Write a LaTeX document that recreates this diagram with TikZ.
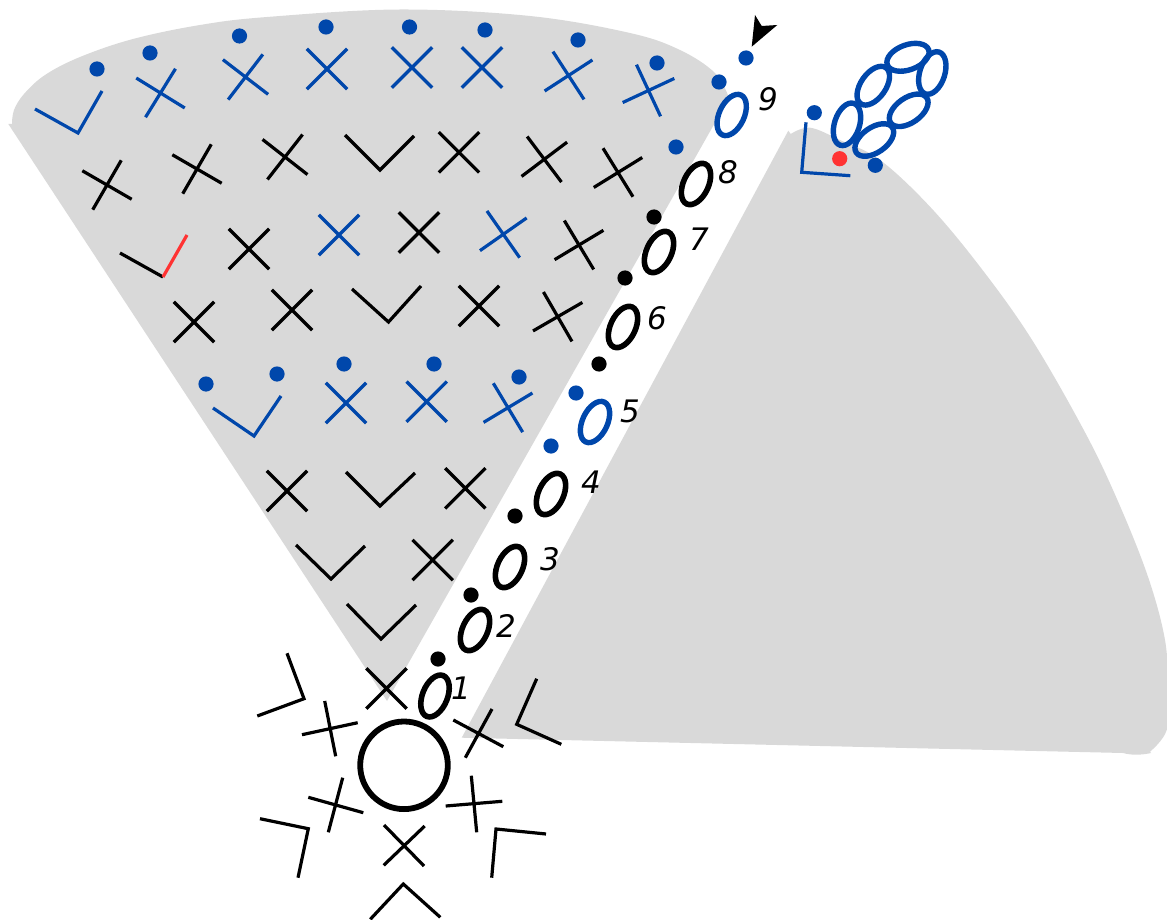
\documentclass[tikz,border=0pt]{standalone}
\usepackage{fontspec}
\setmainfont{DejaVu Sans}
\definecolor{cblue}{HTML}{0047AB}
\definecolor{cred}{HTML}{FF3333}
\definecolor{cgray}{HTML}{D9D9D9}
\tikzset{
  mk/.style={line width=3.2pt,line cap=butt,line join=miter},
  bmk/.style={mk,draw=black},
  umk/.style={mk,draw=cblue},
  chain/.style={line width=5.6pt,draw=black},
  uchain/.style={line width=5.4pt,draw=cblue},
  num/.style={font=\fontsize{31}{31}\selectfont\itshape,inner sep=0pt,text=black},
}
\newcommand\xm[4]{\draw[#1] (#2,#3)+(#4:28.5)--+({#4+180}:28.5) (#2,#3)+({#4+90}:28.5)--+({#4+270}:28.5);}
\newcommand\bdot[2]{\fill[black] (#1,#2) circle[radius=7.6pt];}
\newcommand\udot[2]{\fill[cblue] (#1,#2) circle[radius=7.6pt];}
\newcommand\el[4]{\draw[#1] (#2,#3) circle[x radius=22pt,y radius=12.5pt,rotate=#4];}
\begin{document}
\begin{tikzpicture}[x=1pt,y=-1pt]
\useasboundingbox (0,0) rectangle (1167,920);
% grey wedges
\fill[cgray] (8.3,124) -- (12,124) -- plot[smooth,tension=0.6] coordinates {(12,124) (14,110) (24,94) (45,75) (80,57) (133,39) (200,25) (267,17) (400,9.5) (530,16) (630,33) (680,50) (715,73) (729,98)} -- (387,701) -- cycle;
\fill[cgray] (461.7,737.7) -- (788.3,130.7) -- (790.7,134) -- plot[smooth,tension=0.6] coordinates {(790.7,134) (810,127.7) (840,140) (880,160) (930,206.7) (980,266.7) (1030,336.7) (1080,423) (1113,490) (1146.7,573) (1165,640) (1167.5,690) (1166.7,730) (1150,751.7)} -- (1151,753) .. controls (1140,755.5) and (1130,755) .. (1123,753) -- cycle;
% row 1
\draw[umk] (35,109)--(78,133)--(102,91);
\xm{umk}{160.5}{93}{31.7}
\xm{umk}{245.5}{77}{37.5}
\xm{umk}{327}{69}{45}
\xm{umk}{412}{67.5}{45}
\xm{umk}{482}{67.5}{45}
\xm{umk}{568.5}{75.5}{-33}
\xm{umk}{648.5}{90.5}{-25}
\udot{97}{69}\udot{150}{53}\udot{239.5}{36}\udot{326}{27}\udot{409.5}{27}\udot{485}{30}\udot{578}{40}\udot{657}{63}
% row 2
\xm{bmk}{107}{185}{30}
\xm{bmk}{197}{169}{30}
\xm{bmk}{285}{157}{38}
\draw[bmk] (345,135)--(380,170)--(414,136);
\xm{bmk}{459}{152.3}{45}
\xm{bmk}{544.3}{159.3}{-37}
\xm{bmk}{618}{172.5}{-31.7}
% row 3
\draw[bmk] (120,253)--(163,277);
\draw[mk,draw=cred] (163,277)--(187,235);
\xm{bmk}{249}{249}{45}
\xm{umk}{339}{235}{45}
\xm{bmk}{419}{232.5}{45}
\xm{umk}{503.3}{234.3}{-35}
\xm{bmk}{579}{245}{-31}
% row 4
\xm{bmk}{194}{322}{45}
\xm{bmk}{292}{310}{45}
\draw[bmk] (352,289)--(388.5,322)--(421,286);
\xm{bmk}{479}{306}{45}
\xm{bmk}{557.7}{316.7}{-30}
% row 5
\draw[umk] (213,408)--(254,436)--(281,396);
\udot{206}{384}\udot{277}{374}\udot{344}{364}\udot{434}{364}\udot{519}{377}
\xm{umk}{346}{403}{45}
\xm{umk}{426.7}{401.7}{45}
\xm{umk}{508}{407.7}{-31}
% rows 6-8
\xm{bmk}{287}{491}{45}
\draw[bmk] (346,472)--(380,506)--(415,473);
\xm{bmk}{465.3}{488.3}{45}
\draw[bmk] (296,545)--(331,579)--(365,546);
\xm{bmk}{432.7}{560}{45}
\draw[bmk] (347,604)--(381,639)--(416,605);
% around the ring
\xm{bmk}{386.5}{688.5}{45}
\draw[bmk] (324.7,701)--(335.7,756.3) (302,734.7)--(357.7,722.7);
\draw[bmk] (453.3,720)--(503.3,746.7) (492,709)--(465.3,757.7);
\draw[bmk] (342.7,777.7)--(328.3,832.3) (308.3,797.3)--(363.3,812.7);
\draw[bmk] (471.3,775.7)--(476.7,832.3) (445.7,806)--(502.3,801.3);
\draw[bmk] (384,825)--(424,866) (424.7,826)--(383.7,865.3);
\draw[bmk] (287,653.3)--(304,698.7)--(257.3,716);
\draw[bmk] (536.7,678.7)--(516.7,724.3)--(561.3,744.3);
\draw[bmk] (260,818.7)--(308.3,828.7)--(298,877.7);
\draw[bmk] (546,834)--(496,829)--(491.7,877.7);
\draw[bmk] (370.3,919.3)--(403.3,884)--(440.3,917.3);
\draw[line width=5.8pt] (404,765.3) circle[radius=43.8pt];
% chain
\el{chain}{435}{696}{68}
\el{chain}{475}{630}{65}
\el{chain}{510}{567}{65}
\el{chain}{551}{494}{65}
\el{uchain}{595}{422}{65}
\el{chain}{623}{327}{65}
\el{chain}{659}{252}{65}
\el{chain}{696}{184}{65}
\el{uchain}{731.7}{115}{65}
\bdot{438}{659}\bdot{471}{595}\bdot{515}{516}\bdot{599}{364}\bdot{625}{278}\bdot{654}{217}
\udot{551}{446}\udot{576}{393}\udot{676}{147}\udot{719}{82}\udot{746}{58}
\node[num] (n1) at (461,688) {1};
\node[num] (n2) at (506,626) {2};
\node[num] (n3) at (550,559) {3};
\node[num] (n4) at (591,482) {4};
\node[num] (n5) at (630,411) {5};
\node[num] (n6) at (657,318) {6};
\node[num] (n7) at (699,239) {7};
\node[num] (n8) at (728,172) {8};
\node[num] (n9) at (768,99) {9};
% arrowhead
\fill[black] (755,15)--(761.7,26)--(777.3,25)--(751.7,46.7)--cycle;
% corner cluster
\draw[umk] (806,122.3)--(801.7,172.3)--(850.3,175.7);
\udot{814.3}{112.7}\udot{875.3}{165.3}
\fill[cred] (839.7,158.7) circle[radius=7.6pt];
\el{uchain}{847}{124.3}{72}
\el{uchain}{873.3}{85.7}{55}
\el{uchain}{908}{57.3}{20}
\el{uchain}{932.3}{73}{72}
\el{uchain}{908.7}{110.3}{35}
\el{uchain}{874.3}{140}{35}
\end{tikzpicture}
\end{document}
